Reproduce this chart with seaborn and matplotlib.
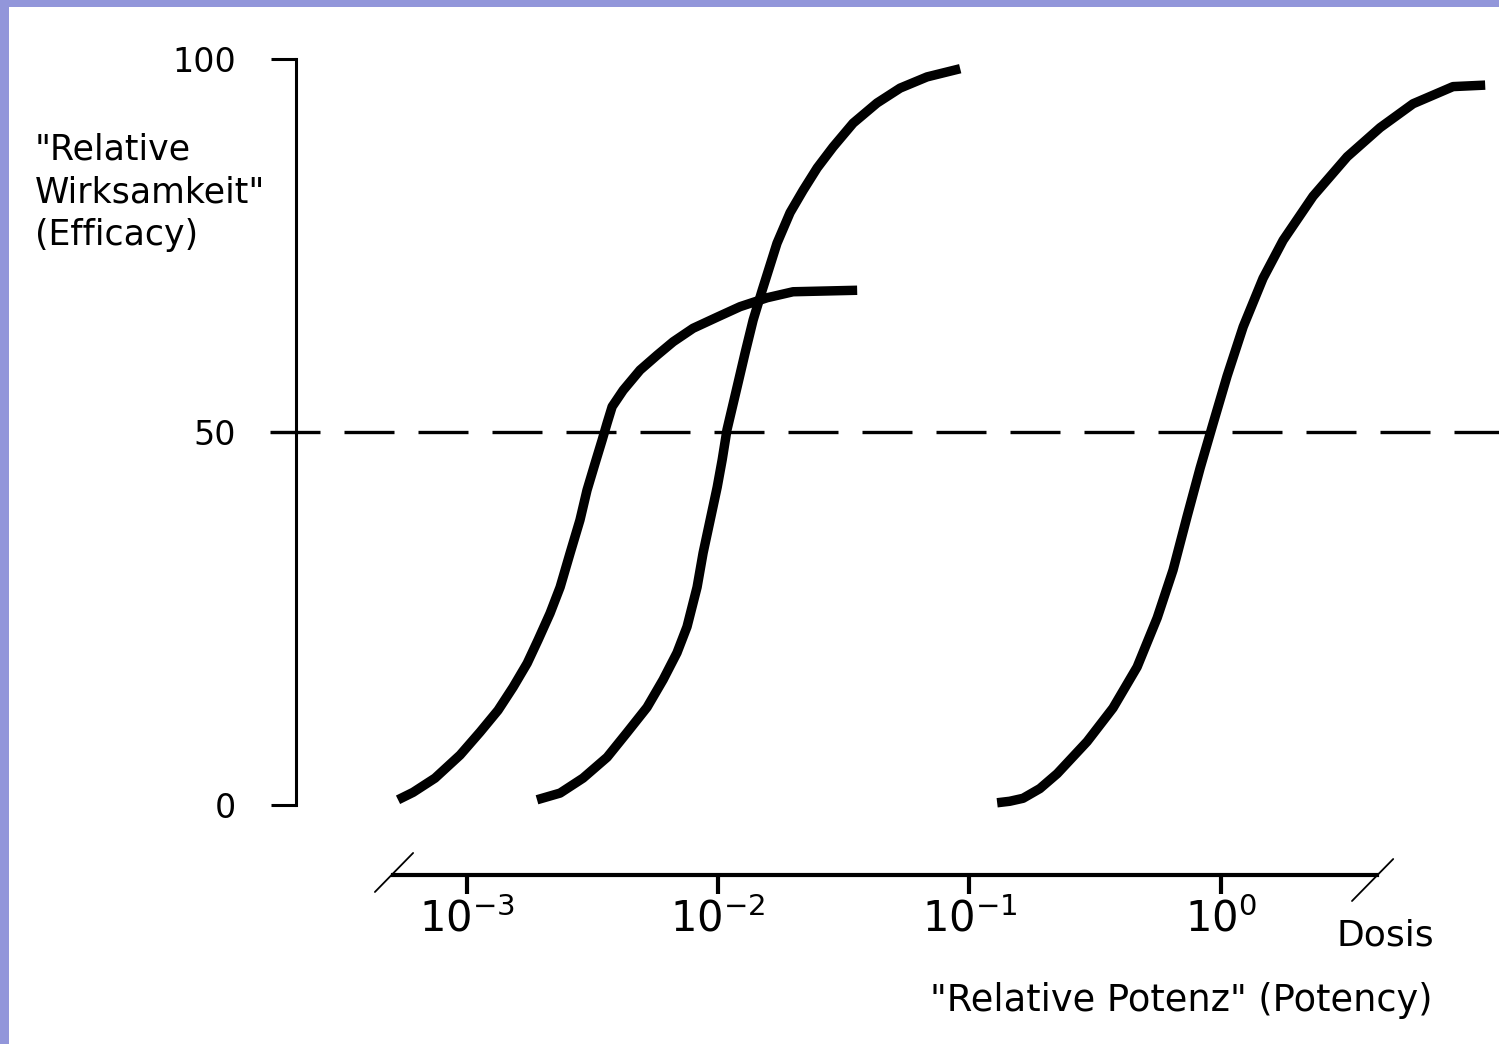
import matplotlib
matplotlib.use("Agg")
import matplotlib.pyplot as plt
from matplotlib.patches import Rectangle
from matplotlib.transforms import blended_transform_factory
import seaborn as sns

# log10(Dosis) und Wirkung in % fuer die drei Kurven
dosis_a = [-3.274, -3.214, -3.127, -3.027, -2.947, -2.876, -2.816, -2.760, -2.717, -2.669,
           -2.629, -2.589, -2.550, -2.522, -2.490, -2.462, -2.442, -2.422, -2.378, -2.311,
           -2.243, -2.179, -2.100, -2.004, -1.913, -1.805, -1.702, -1.447]
wirkung_a = [0.7, 1.7, 3.6, 6.7, 9.8, 12.7, 15.8, 19.0, 22.1, 25.7,
             29.2, 33.8, 38.2, 42.2, 45.8, 48.9, 51.2, 53.4, 55.6, 58.3,
             60.3, 62.1, 63.9, 65.4, 66.8, 68.0, 68.8, 69.0]

dosis_b = [-2.721, -2.629, -2.538, -2.442, -2.363, -2.283, -2.219, -2.164, -2.124, -2.084,
           -2.060, -2.032, -2.004, -1.984, -1.965, -1.925, -1.893, -1.861, -1.825, -1.766,
           -1.714, -1.662, -1.606, -1.543, -1.463, -1.368, -1.276, -1.169, -1.037]
wirkung_b = [0.7, 1.6, 3.6, 6.4, 9.7, 13.1, 16.8, 20.4, 23.9, 29.2,
             33.8, 38.2, 42.6, 46.3, 50.3, 56.0, 60.6, 65.0, 69.0, 75.3,
             79.4, 82.4, 85.4, 88.2, 91.4, 94.1, 96.1, 97.6, 98.7]

dosis_c = [-0.890, -0.840, -0.787, -0.720, -0.651, -0.532, -0.429, -0.333, -0.253, -0.190,
           -0.134, -0.082, -0.031, 0.025, 0.089, 0.168, 0.248, 0.367, 0.503, 0.634,
           0.765, 0.924, 1.052]
wirkung_c = [0.3, 0.5, 0.9, 2.2, 4.2, 8.5, 13.0, 18.5, 25.1, 31.5,
             38.7, 45.2, 51.1, 57.5, 64.1, 70.6, 75.7, 81.6, 86.9, 90.8,
             94.0, 96.3, 96.5]

x_ticks = [-3, -2, -1, 0]
x_labels = ["$10^{-3}$", "$10^{-2}$", "$10^{-1}$", "$10^{0}$"]
y_ticks = [0, 50, 100]
y_labels = ["0", "50", "100"]
ec50 = 50

sns.set_theme(style="ticks")
plt.rcParams["font.family"] = ["DejaVu Sans"]
plt.rcParams["mathtext.fontset"] = "dejavusans"
plt.rcParams["text.color"] = "black"

W, H = 1499, 1044
fig = plt.figure(figsize=(W / 100, H / 100), dpi=100, facecolor="#9296da")
# weisse Folienflaeche
fig.patches.append(Rectangle((9 / W, 0), 1, 1 - 7 / H, transform=fig.transFigure,
                             facecolor="white", edgecolor="none", zorder=-5))

ax = fig.add_axes([296 / W, 239 / H, 1203 / W, 746 / H])
ax.set_facecolor("none")
ax.set_zorder(2)

for xs, ys in [(dosis_a, wirkung_a), (dosis_b, wirkung_b), (dosis_c, wirkung_c)]:
    sns.lineplot(x=xs, y=ys, ax=ax, color="black", linewidth=6.8, sort=False, estimator=None)
for line in ax.lines:
    line.set_clip_on(False)
    line.set_solid_capstyle("butt")
    line.set_solid_joinstyle("round")

ax.axhline(ec50, xmin=-26 / 1203, xmax=1, color="black", lw=2.4, dashes=(15, 7.2), clip_on=False)

ax.set_xlim(-3.680, 1.107)
ax.set_ylim(0, 100)
ax.set_xticks(x_ticks, x_labels)
ax.set_yticks(y_ticks, y_labels)

sns.despine(ax=ax)
x0, x1 = -3.294, 0.622
ax.spines["left"].set_bounds(0, 100)
ax.spines["left"].set_linewidth(2.2)
ax.spines["left"].set_color("black")
ax.spines["bottom"].set_position(("outward", 50.4))
ax.spines["bottom"].set_bounds(x0, x1)
ax.spines["bottom"].set_linewidth(3)
ax.spines["bottom"].set_color("black")

ax.tick_params(axis="y", length=18, width=2.2, pad=25, labelsize=24, colors="black")
ax.tick_params(axis="x", length=13.7, width=3, pad=3, labelsize=30, colors="black")
ax.set_xlabel("")
ax.set_ylabel("")

# Achsenbruch-Striche
trans = blended_transform_factory(ax.transData, ax.transAxes)
ax.plot([x0 - 0.072, x0 + 0.080], [-0.1166, -0.0643], transform=trans,
        color="black", lw=1.3, clip_on=False)
ax.plot([x1 - 0.100, x1 + 0.064], [-0.1287, -0.0724], transform=trans,
        color="black", lw=1.3, clip_on=False)

fig.text(35 / W, 1 - 132 / H, '"Relative\nWirksamkeit"\n(Efficacy)', ha="left", va="top",
         fontsize=25, linespacing=1.34, color="black")
fig.text(1336 / W, 98 / H, "Dosis", ha="left", va="baseline", fontsize=26, color="black")
fig.text(1432 / W, 33 / H, '"Relative Potenz" (Potency)', ha="right", va="baseline",
         fontsize=26.5, color="black")

fig.savefig("out.png", dpi=100, facecolor=fig.get_facecolor())
